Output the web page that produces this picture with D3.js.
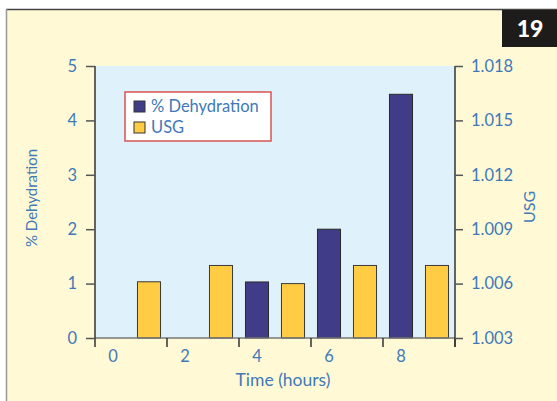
<!DOCTYPE html>
<html>
<head>
<meta charset="utf-8">
<script src="https://cdn.jsdelivr.net/npm/d3@7"></script>
<style>
  body { margin: 0; background: #fff; }
  svg { display: block; font-family: Lato, "Open Sans", sans-serif; }
</style>
</head>
<body>
<svg id="chart" width="557" height="401"></svg>
<script>
// dados
const times = [0, 1, 2, 3, 4, 5, 6, 7, 8, 9];
const tickLabels = [0, 2, 4, 6, 8];
const dehydration = [null, null, null, null, 1.03, null, 2.0, null, 4.48, null];
const usg = [null, 1.0061, null, 1.007, null, 1.006, null, 1.007, null, 1.007];
const leftTicks = [0, 1, 2, 3, 4, 5];
const rightTicks = [1.003, 1.006, 1.009, 1.012, 1.015, 1.018];

const blue = '#3f79b8';
const navy = '#413c87';
const gold = '#ffcc44';

const svg = d3.select('#chart');

// fundo creme e moldura
svg.append('rect').attr('x', 6).attr('y', 9).attr('width', 551).attr('height', 392).attr('fill', '#fff9d6');
svg.append('line').attr('x1', 6).attr('x2', 557).attr('y1', 9.5).attr('y2', 9.5).attr('stroke', '#444').attr('stroke-width', 1.5);
svg.append('line').attr('x1', 6.5).attr('x2', 6.5).attr('y1', 9).attr('y2', 401).attr('stroke', '#999').attr('stroke-width', 1.5);

// selo "19"
svg.append('rect').attr('x', 502).attr('y', 10).attr('width', 55).attr('height', 37).attr('fill', '#1e1b1b');
svg.append('text').attr('x', 530).attr('y', 37).attr('text-anchor', 'middle')
  .attr('fill', '#fff').attr('font-size', 23).attr('font-weight', 900).text('19');

const margin = { top: 66, left: 95 };
const width = 360, height = 272;

const g = svg.append('g').attr('transform', `translate(${margin.left},${margin.top})`);
g.append('rect').attr('width', width).attr('height', height).attr('fill', '#dff2fb');

const x = d3.scaleBand().domain(times).range([0, width]).paddingInner(0.36).paddingOuter(0.18);
const yL = d3.scaleLinear().domain([0, 5]).range([height, 0]);
const yR = d3.scaleLinear().domain([1.003, 1.018]).range([height, 0]);

// barras
g.selectAll('.usg').data(times.filter((t, i) => usg[i] != null)).enter().append('rect')
  .attr('x', t => x(t))
  .attr('y', t => yR(usg[t]))
  .attr('width', x.bandwidth())
  .attr('height', t => height - yR(usg[t]))
  .attr('fill', gold).attr('stroke', '#3a3a3a').attr('stroke-width', 1);

g.selectAll('.deh').data(times.filter((t, i) => dehydration[i] != null)).enter().append('rect')
  .attr('x', t => x(t))
  .attr('y', t => yL(dehydration[t]))
  .attr('width', x.bandwidth())
  .attr('height', t => height - yL(dehydration[t]))
  .attr('fill', navy).attr('stroke', '#2a2a2a').attr('stroke-width', 1);

// eixo x
const step = x.step();
const xAxis = g.append('g').attr('transform', `translate(0,${height})`);
xAxis.append('line').attr('x1', 0).attr('x2', width).attr('stroke', '#777').attr('stroke-width', 1.5);
xAxis.selectAll('.xt').data(d3.range(0, 11, 2)).enter().append('line')
  .attr('x1', i => i * step).attr('x2', i => i * step)
  .attr('y1', 0).attr('y2', 9).attr('stroke', '#333').attr('stroke-width', 1.5);
xAxis.selectAll('.xl').data(tickLabels).enter().append('text')
  .attr('x', t => x(t) + x.bandwidth() / 2)
  .attr('y', 24).attr('text-anchor', 'middle')
  .attr('fill', blue).attr('font-size', 16.5).text(d => d);

// eixo esquerdo
const left = g.append('g').call(d3.axisLeft(yL).tickValues(leftTicks).tickSize(9).tickPadding(9).tickFormat(d3.format('d')));
left.select('.domain').attr('stroke', '#333').attr('stroke-width', 1.5).attr('d', `M0,0V${height}`);
left.selectAll('.tick line').attr('stroke', '#555').attr('stroke-width', 1.5);
left.selectAll('text').attr('fill', blue).attr('font-size', 16.5).attr('font-family', 'Lato, sans-serif');

// eixo direito
const right = g.append('g').attr('transform', `translate(${width},0)`)
  .call(d3.axisRight(yR).tickValues(rightTicks).tickSize(8).tickPadding(8).tickFormat(d3.format('.3f')));
right.select('.domain').attr('stroke', '#333').attr('stroke-width', 1.5).attr('d', `M0,0V${height + 9}`);
right.selectAll('.tick line').attr('stroke', '#555').attr('stroke-width', 1.5);
right.selectAll('text').attr('fill', blue).attr('font-size', 16.5).attr('font-family', 'Lato, sans-serif');

// títulos dos eixos
svg.append('text').attr('transform', 'translate(37,198) rotate(-90)').attr('text-anchor', 'middle')
  .attr('fill', blue).attr('font-size', 15).text('% Dehydration');
svg.append('text').attr('transform', 'translate(535,207) rotate(-90)').attr('text-anchor', 'middle')
  .attr('fill', blue).attr('font-size', 16).text('USG');
svg.append('text').attr('x', 283).attr('y', 386).attr('text-anchor', 'middle')
  .attr('fill', blue).attr('font-size', 17.5).text('Time (hours)');

// legenda
const legend = svg.append('g').attr('transform', 'translate(125,92)');
legend.append('rect').attr('width', 146).attr('height', 49).attr('fill', '#fff')
  .attr('stroke', '#d9534f').attr('stroke-width', 1.5);
const items = [{ label: '% Dehydration', color: navy }, { label: 'USG', color: gold }];
items.forEach((it, i) => {
  legend.append('rect').attr('x', 9).attr('y', 9 + i * 21).attr('width', 11).attr('height', 11)
    .attr('fill', it.color).attr('stroke', '#333').attr('stroke-width', 1);
  legend.append('text').attr('x', 26).attr('y', 20 + i * 21)
    .attr('fill', blue).attr('font-size', 16.5).text(it.label);
});
</script>
</body>
</html>
